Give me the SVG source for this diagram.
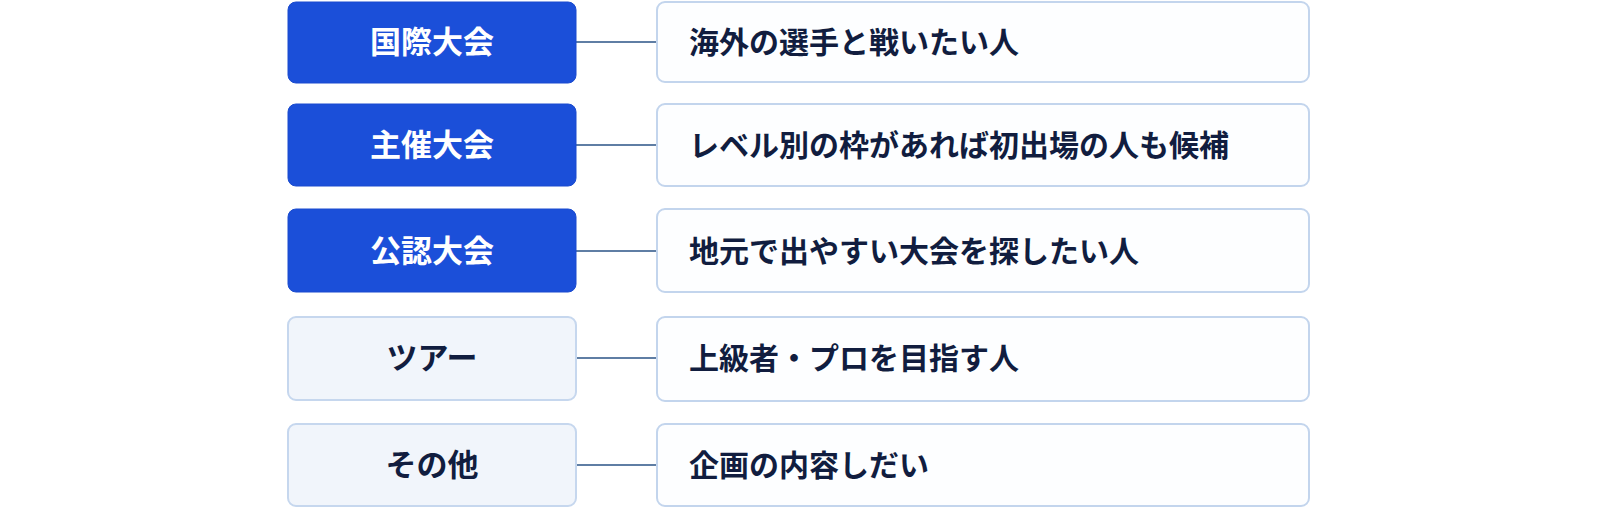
<svg xmlns="http://www.w3.org/2000/svg" width="1600" height="509" viewBox="0 0 1600 509">
<style>
.bg{fill:#ffffff}
.cat-a rect{fill:#1b4fd9;stroke:#1a4bcf;stroke-width:1}
.cat-b rect{fill:#f1f5fb;stroke:#c6d7ee;stroke-width:2}
.desc rect{fill:#fdfeff;stroke:#c3d5ed;stroke-width:2}
.lt{font-family:"Noto Sans CJK JP","Noto Sans CJK SC",sans-serif;font-weight:700;font-size:31px;text-anchor:middle}
.cat-a text{fill:#ffffff}
.cat-b text{fill:#111d3f}
.dt{font-family:"Noto Sans CJK JP","Noto Sans CJK SC",sans-serif;font-weight:700;font-size:30px;fill:#111d3f}
.conn line{stroke:#5f7ea4;stroke-width:2}
</style>
<rect class="bg" x="0" y="0" width="1600" height="509"/>
<g id="connectors" class="conn">
<line x1="576" y1="42" x2="657" y2="42"/>
<line x1="576" y1="145" x2="657" y2="145"/>
<line x1="576" y1="251" x2="657" y2="251"/>
<line x1="576" y1="358" x2="657" y2="358"/>
<line x1="576" y1="465" x2="657" y2="465"/>
</g>
<g id="cat1" class="cat-a"><rect x="288" y="2" width="288" height="81" rx="8"/><text class="lt" x="432" y="53">国際大会</text></g>
<g id="cat2" class="cat-a"><rect x="288" y="104" width="288" height="82" rx="8"/><text class="lt" x="432" y="156">主催大会</text></g>
<g id="cat3" class="cat-a"><rect x="288" y="209" width="288" height="83" rx="8"/><text class="lt" x="432" y="262">公認大会</text></g>
<g id="cat4" class="cat-b"><rect x="288" y="317" width="288" height="83" rx="8"/><text class="lt" x="432" y="369">ツアー</text></g>
<g id="cat5" class="cat-b"><rect x="288" y="424" width="288" height="82" rx="8"/><text class="lt" x="432" y="476">その他</text></g>
<g id="desc1" class="desc"><rect x="657" y="2" width="652" height="80" rx="8"/><text class="dt" x="689" y="53">海外の選手と戦いたい人</text></g>
<g id="desc2" class="desc"><rect x="657" y="104" width="652" height="82" rx="8"/><text class="dt" x="689" y="156">レベル別の枠があれば初出場の人も候補</text></g>
<g id="desc3" class="desc"><rect x="657" y="209" width="652" height="83" rx="8"/><text class="dt" x="689" y="262">地元で出やすい大会を探したい人</text></g>
<g id="desc4" class="desc"><rect x="657" y="317" width="652" height="84" rx="8"/><text class="dt" x="689" y="369">上級者・プロを目指す人</text></g>
<g id="desc5" class="desc"><rect x="657" y="424" width="652" height="82" rx="8"/><text class="dt" x="689" y="476">企画の内容しだい</text></g>
</svg>
